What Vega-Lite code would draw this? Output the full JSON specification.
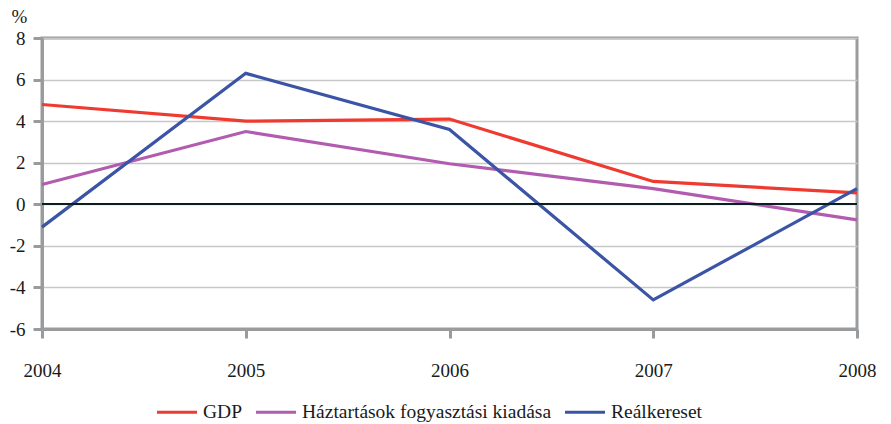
{
  "$schema": "https://vega.github.io/schema/vega-lite/v6.json",
  "width": 815,
  "height": 291,
  "autosize": {"type": "none"},
  "padding": {"left": 42, "top": 38, "right": 34, "bottom": 95},
  "background": "white",
  "config": {
    "font": "Liberation Serif",
    "view": {"stroke": "#9a9b9d", "strokeWidth": 3},
    "axis": {"labelFont": "Liberation Serif", "labelFontSize": 19, "labelColor": "#1a1a1a", "titleFont": "Liberation Serif"}
  },
  "data": {
    "values": [
      {"year": 2004, "series": "GDP", "value": 4.8},
      {"year": 2005, "series": "GDP", "value": 4.0},
      {"year": 2006, "series": "GDP", "value": 4.1},
      {"year": 2007, "series": "GDP", "value": 1.1},
      {"year": 2008, "series": "GDP", "value": 0.55},
      {"year": 2004, "series": "Háztartások fogyasztási kiadása", "value": 0.95},
      {"year": 2005, "series": "Háztartások fogyasztási kiadása", "value": 3.5},
      {"year": 2006, "series": "Háztartások fogyasztási kiadása", "value": 1.95},
      {"year": 2007, "series": "Háztartások fogyasztási kiadása", "value": 0.75},
      {"year": 2008, "series": "Háztartások fogyasztási kiadása", "value": -0.75},
      {"year": 2004, "series": "Reálkereset", "value": -1.1},
      {"year": 2005, "series": "Reálkereset", "value": 6.3},
      {"year": 2006, "series": "Reálkereset", "value": 3.6},
      {"year": 2007, "series": "Reálkereset", "value": -4.6},
      {"year": 2008, "series": "Reálkereset", "value": 0.75}
    ]
  },
  "layer": [
    {
      "mark": {"type": "line", "strokeWidth": 3.2},
      "encoding": {
        "x": {
          "field": "year", "type": "quantitative",
          "scale": {"domain": [2004, 2008], "nice": false, "zero": false},
          "axis": {"values": [2004, 2005, 2006, 2007, 2008], "format": "d", "title": null, "grid": false,
                   "domainColor": "#9a9b9d", "domainWidth": 3, "tickColor": "#9a9b9d", "tickWidth": 3, "tickSize": 9,
                   "labelPadding": 23, "labelFlush": false}
        },
        "y": {
          "field": "value", "type": "quantitative",
          "scale": {"domain": [-6, 8], "nice": false},
          "axis": {"values": [-6, -4, -2, 0, 2, 4, 6, 8], "labelExpr": "replace(datum.label, '−', '-')",
                   "title": "%", "titleAngle": 0, "titleX": -31, "titleY": -16,
                   "titleAlign": "left", "titleBaseline": "alphabetic", "titleFontSize": 19, "titleFontWeight": "normal", "titleColor": "#1a1a1a",
                   "gridColor": "#c6c7c9", "gridWidth": 1.5,
                   "domainColor": "#9a9b9d", "domainWidth": 3, "tickColor": "#9a9b9d", "tickWidth": 3, "tickSize": 9,
                   "labelPadding": 8}
        },
        "color": {
          "field": "series", "type": "nominal",
          "scale": {"domain": ["GDP", "Háztartások fogyasztási kiadása", "Reálkereset"], "range": ["#ef3a2f", "#b25cb0", "#3b54a5"]},
          "legend": {"title": null, "orient": "none", "legendX": 113, "legendY": 352, "direction": "horizontal",
                     "symbolType": "stroke", "symbolSize": 1600, "symbolStrokeWidth": 3.2, "labelFontSize": 19.5, "labelLimit": 500,
                     "labelFont": "Liberation Serif", "labelColor": "#1a1a1a", "columnPadding": 6, "labelOffset": 4}
        }
      }
    },
    {
      "mark": {"type": "rule", "color": "#0b1f1f", "strokeWidth": 1.5},
      "encoding": {"y": {"datum": 0}}
    }
  ]
}
